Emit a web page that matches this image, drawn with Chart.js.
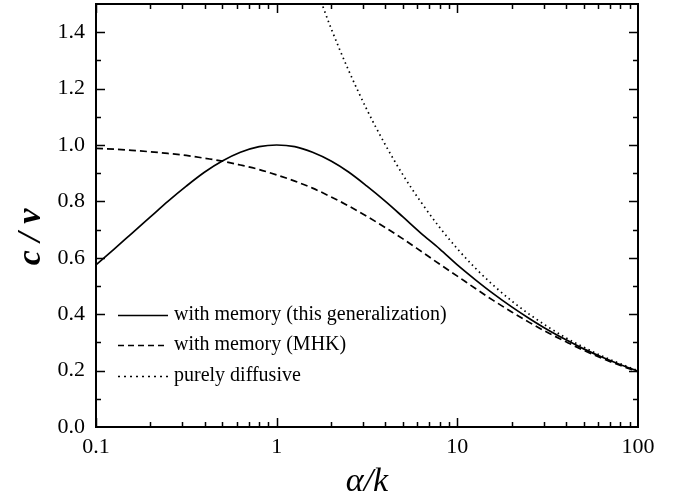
<!DOCTYPE html>
<html lang="en">
<head>
  <meta charset="UTF-8" />
  <title>c / v versus α/k</title>
  <script src="https://cdn.jsdelivr.net/npm/chart.js"></script>
  <style>
    body { margin: 0; background: white; }
    #wrap { width: 680px; height: 502px; position: relative; }
  </style>
</head>
<body>
  <div id="wrap"><canvas id="chart" width="680" height="502"></canvas></div>

  <script>
    // values
    const alphaK = [0.1, 0.126, 0.158, 0.2, 0.25, 0.316, 0.4, 0.5, 0.63, 0.8, 1,
      1.26, 1.58, 2, 2.5, 3.16, 4, 5, 6.3, 8, 10,
      12.6, 15.8, 20, 25, 31.6, 40, 50, 63, 80, 100];
    const memoryThis = [0.575, 0.631, 0.687, 0.745, 0.800, 0.854, 0.904, 0.943, 0.974, 0.994, 1.000,
      0.994, 0.974, 0.943, 0.904, 0.854, 0.800, 0.745, 0.687, 0.631, 0.575,
      0.522, 0.473, 0.426, 0.385, 0.345, 0.309, 0.277, 0.248, 0.221, 0.198];
    const memoryMHK = [0.988, 0.985, 0.981, 0.976, 0.970, 0.963, 0.953, 0.943, 0.929, 0.913, 0.894,
      0.872, 0.847, 0.816, 0.784, 0.747, 0.707, 0.667, 0.623, 0.577, 0.535,
      0.491, 0.449, 0.408, 0.371, 0.335, 0.302, 0.272, 0.244, 0.218, 0.196];
    const diffusiveX = [1.58, 2, 2.5, 3.16, 4, 5, 6.3, 8, 10,
      12.6, 15.8, 20, 25, 31.6, 40, 50, 63, 80, 100];
    const diffusive = [1.591, 1.414, 1.265, 1.125, 1.000, 0.894, 0.797, 0.707, 0.632,
      0.563, 0.503, 0.447, 0.400, 0.356, 0.316, 0.283, 0.252, 0.224, 0.200];

    const xTickValues = [0.1, 1, 10, 100];
    const xTickLabels = ['0.1', '1', '10', '100'];
    const yTickValues = [0, 0.2, 0.4, 0.6, 0.8, 1.0, 1.2, 1.4];

    const legendLabels = ['with memory (this generalization)', 'with memory (MHK)', 'purely diffusive'];

    const serif = '"Liberation Serif", "DejaVu Serif", serif';

    const toPoints = (xs, ys) => xs.map((x, i) => ({ x: x, y: ys[i] }));

    const lineStyle = (dash) => ({
      borderColor: '#000',
      borderWidth: 1.7,
      borderDash: dash,
      pointRadius: 0,
      fill: false,
      cubicInterpolationMode: 'monotone'
    });

    // frame, inward ticks, legend and y title
    const decorations = {
      id: 'decorations',
      afterDraw(chart) {
        const ctx = chart.ctx;
        const a = chart.chartArea;
        const xs = chart.scales.x;
        const ys = chart.scales.y;
        ctx.save();
        ctx.strokeStyle = '#000';
        ctx.lineWidth = 2;
        ctx.strokeRect(a.left, a.top, a.right - a.left, a.bottom - a.top);

        ctx.lineWidth = 1.5;
        ctx.beginPath();
        // x ticks (log): majors on decades, minors 2..9
        for (let d = 0.1; d < 100; d *= 10) {
          for (let m = 1; m <= 9; m++) {
            const v = d * m;
            const px = Math.round(xs.getPixelForValue(v)) + 0.5;
            const len = m === 1 ? 9 : 5;
            ctx.moveTo(px, a.bottom); ctx.lineTo(px, a.bottom - len);
            ctx.moveTo(px, a.top); ctx.lineTo(px, a.top + len);
          }
        }
        // y ticks: majors every 0.2, minors every 0.1
        for (let i = 1; i <= 14; i++) {
          const v = i / 10;
          const py = Math.round(ys.getPixelForValue(v)) + 0.5;
          const len = i % 2 === 0 ? 9 : 5;
          ctx.moveTo(a.left, py); ctx.lineTo(a.left + len, py);
          ctx.moveTo(a.right, py); ctx.lineTo(a.right - len, py);
        }
        ctx.stroke();

        // legend
        const dashes = [[], [6, 4], [2, 4]];
        const rowY = [315, 345, 376];
        ctx.font = '20px ' + serif;
        ctx.fillStyle = '#000';
        ctx.textBaseline = 'middle';
        legendLabels.forEach((lab, i) => {
          ctx.beginPath();
          ctx.lineWidth = 1.5;
          ctx.setLineDash(dashes[i]);
          ctx.moveTo(118, rowY[i] + 0.5);
          ctx.lineTo(168, rowY[i] + 0.5);
          ctx.stroke();
          ctx.setLineDash([]);
          ctx.fillText(lab, 174, rowY[i]);
        });

        // y title
        ctx.translate(31, 237);
        ctx.rotate(-Math.PI / 2);
        ctx.textAlign = 'center';
        ctx.font = 'italic bold 34px ' + serif;
        ctx.fillText('c / v', 0, 0);
        ctx.restore();
      }
    };

    new Chart(document.getElementById('chart'), {
      type: 'line',
      data: {
        datasets: [
          Object.assign({ label: legendLabels[0], data: toPoints(alphaK, memoryThis) }, lineStyle([])),
          Object.assign({ label: legendLabels[1], data: toPoints(alphaK, memoryMHK) }, lineStyle([7, 4])),
          Object.assign({ label: legendLabels[2], data: toPoints(diffusiveX, diffusive) }, lineStyle([1.5, 3.5]))
        ]
      },
      options: {
        responsive: false,
        animation: false,
        layout: { padding: { top: 4, right: 42, left: 0, bottom: 0 } },
        plugins: { legend: { display: false }, tooltip: { enabled: false } },
        scales: {
          x: {
            type: 'logarithmic',
            min: 0.1,
            max: 100,
            grid: { display: false, drawTicks: false },
            border: { display: false },
            afterBuildTicks: (s) => { s.ticks = xTickValues.map(v => ({ value: v })); },
            afterFit: (s) => { s.height = 75; s.paddingLeft = 0; s.paddingRight = 0; },
            ticks: {
              padding: 7,
              color: '#000',
              font: { family: serif, size: 22 },
              maxRotation: 0,
              callback: (v) => xTickLabels[xTickValues.indexOf(v)]
            },
            title: {
              display: true,
              text: 'α/k',
              color: '#000',
              font: { family: serif, size: 34, style: 'italic' },
              padding: { top: 0, bottom: 0 }
            }
          },
          y: {
            min: 0,
            max: 1.5,
            grid: { display: false, drawTicks: false },
            border: { display: false },
            afterBuildTicks: (s) => { s.ticks = yTickValues.map(v => ({ value: v })); },
            afterFit: (s) => { s.width = 96; s.paddingTop = 0; s.paddingBottom = 0; },
            ticks: {
              padding: 11,
              color: '#000',
              font: { family: serif, size: 22 },
              callback: (v) => v.toFixed(1)
            }
          }
        }
      },
      plugins: [decorations]
    });
  </script>
</body>
</html>
